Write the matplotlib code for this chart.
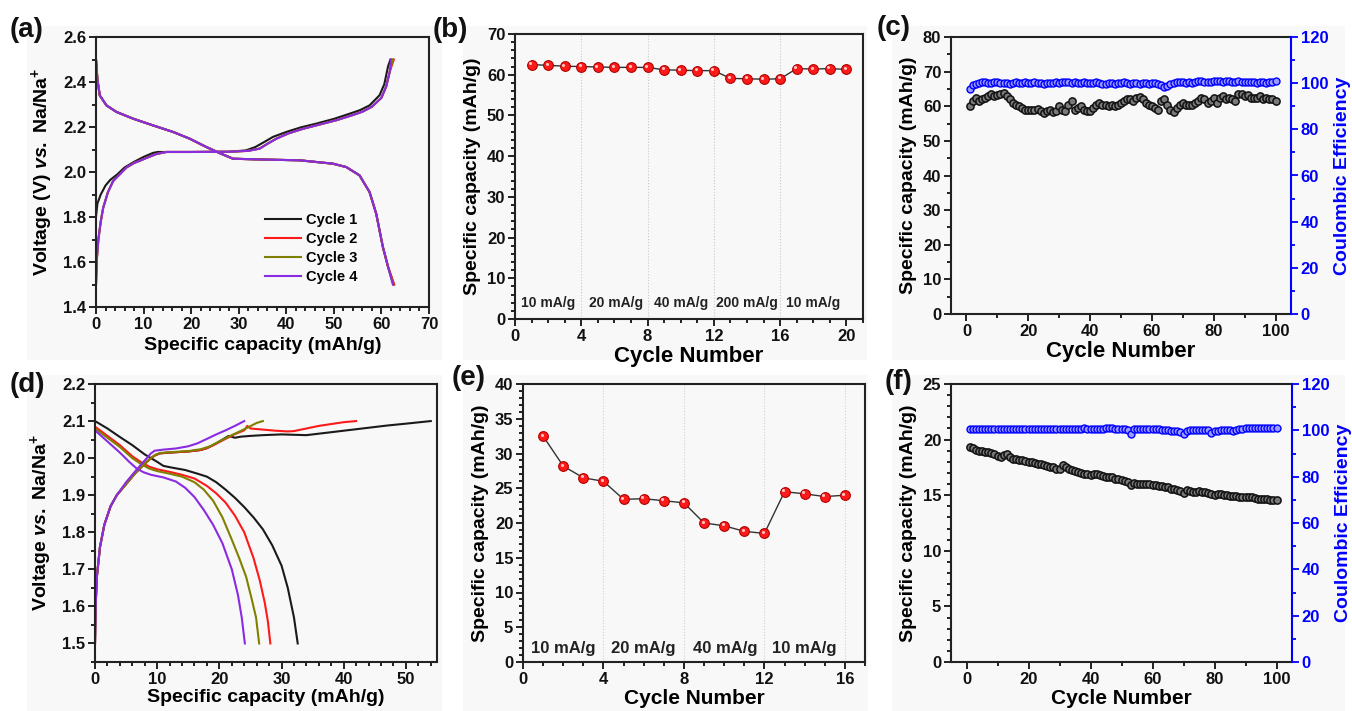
import matplotlib
matplotlib.use('Agg')
import matplotlib.pyplot as plt
from matplotlib.ticker import MultipleLocator
from matplotlib.patches import Rectangle
from matplotlib.transforms import offset_copy

plt.rcParams['font.family'] = ['Liberation Sans', 'DejaVu Sans']
plt.rcParams['font.weight'] = 'bold'
plt.rcParams['axes.labelweight'] = 'bold'
plt.rcParams['mathtext.fontset'] = 'custom'
plt.rcParams['mathtext.rm'] = 'Liberation Sans:bold'
plt.rcParams['mathtext.it'] = 'Liberation Sans:bold:italic'
plt.rcParams['mathtext.bf'] = 'Liberation Sans:bold'

# ---------------- data: panel (a) ----------------
cycle_labels = ['Cycle 1', 'Cycle 2', 'Cycle 3', 'Cycle 4']
cycle_colors = ['#1a1a1a', '#ff1a1a', '#808000', '#8a2be2']

a_chg1_cap = [0, 0.3, 1, 2, 3, 4.5, 6, 8, 10, 12, 13, 20, 28, 31.5, 33.5, 35.5, 37.2, 40, 43, 46.3, 50, 53.3, 55.5, 57.5, 59.6, 60.6, 61.4, 61.9]
a_chg1_v = [1.80, 1.86, 1.90, 1.94, 1.965, 1.99, 2.02, 2.045, 2.067, 2.085, 2.089, 2.089, 2.09, 2.096, 2.111, 2.135, 2.156, 2.178, 2.198, 2.215, 2.236, 2.259, 2.275, 2.296, 2.341, 2.39, 2.47, 2.50]
a_chg_cap = [0, 0.2, 0.5, 1.0, 1.5, 2.5, 3.6, 5, 6.4, 8, 9.2, 11, 12.7, 14.8, 20, 28, 32, 34.4, 36, 37.9, 40.5, 43.5, 46.8, 50.5, 53.8, 56, 58, 60, 61, 61.8, 62.5]
a_chg_v = [1.50, 1.62, 1.70, 1.78, 1.84, 1.91, 1.96, 1.99, 2.02, 2.04, 2.05, 2.066, 2.08, 2.089, 2.089, 2.09, 2.094, 2.104, 2.125, 2.148, 2.172, 2.192, 2.21, 2.23, 2.252, 2.268, 2.29, 2.33, 2.38, 2.45, 2.50]
a_chg_end = [62.6, 62.4, 62.0]
a_dis_cap = [0, 0.3, 0.8, 2.2, 4.3, 7.8, 12, 16.2, 19.7, 23.2, 26, 28.8, 35.8, 42.8, 49.8, 52.6, 55.4, 57.5, 58.9, 60.3, 61.4, 62.4]
a_dis_v = [2.50, 2.41, 2.34, 2.296, 2.267, 2.237, 2.207, 2.178, 2.148, 2.111, 2.084, 2.059, 2.055, 2.052, 2.037, 2.022, 1.985, 1.911, 1.815, 1.667, 1.578, 1.50]
a_dis_end = [62.6, 62.7, 62.5, 62.4]

# ---------------- data: panel (b) ----------------
b_cycle = list(range(1, 21))
b_cap = [62.5, 62.3, 62.1, 62.0, 61.9, 61.8, 61.8, 61.8, 61.2, 61.1,
         61.0, 61.0, 59.1, 59.0, 58.9, 59.0, 61.5, 61.4, 61.5, 61.3]
b_rate_labels = ['10 mA/g', '20 mA/g', '40 mA/g', '200 mA/g', '10 mA/g']
b_rate_x = [2.0, 6.1, 10.0, 14.0, 18.0]
b_dividers = [4, 8, 12, 16]

# ---------------- data: panel (c) ----------------
c_cycle = list(range(1, 101))
c_cap = [60.0, 61.5, 62.3, 61.5, 62.0, 62.5, 63.0, 63.5, 63.0, 63.2,
         63.5, 63.8, 63.0, 62.0, 61.0, 60.5, 60.0, 59.5, 59.0, 58.8,
         59.0, 59.0, 59.2, 58.5, 58.0, 58.5, 58.8, 58.2, 58.5, 60.0,
         59.0, 58.5, 60.5, 61.5, 59.0, 59.5, 60.0, 59.0, 58.5, 58.5,
         59.5, 60.5, 60.8, 60.5, 60.5, 60.2, 60.5, 60.0, 60.5, 61.0,
         61.5, 62.0, 62.0, 61.5, 62.5, 62.8, 62.0, 61.0, 60.5, 60.0,
         59.5, 59.0, 61.5, 62.0, 60.5, 59.0, 58.2, 59.5, 60.5, 61.0,
         60.5, 60.3, 60.5, 61.0, 61.5, 62.5, 62.0, 61.0, 61.5, 62.5,
         61.0, 62.5, 63.0, 62.0, 62.5, 62.0, 61.5, 63.5, 63.5, 63.0,
         63.2, 62.5, 62.5, 62.5, 63.0, 62.0, 62.5, 62.0, 62.0, 61.5]
c_ce = [97.5, 99.0, 99.8, 100.2, 100.3, 100.3, 100.2, 100.0, 100.4, 100.3,
        100.0, 100.2, 100.0, 99.8, 100.2, 100.3, 100.2, 100.0, 100.3, 100.2,
        100.0, 100.3, 100.2, 100.0, 99.8, 100.0, 100.2, 100.0, 100.3, 100.2,
        100.4, 100.5, 100.3, 100.2, 100.5, 100.2, 100.0, 100.3, 100.0, 100.2,
        100.0, 100.3, 100.0, 99.8, 99.6, 100.0, 100.2, 99.8, 100.0, 100.2,
        100.3, 100.0, 99.8, 100.2, 100.0, 99.7, 100.0, 100.2, 99.8, 100.0,
        100.0, 99.8, 99.0, 98.5, 98.8, 99.8, 100.0, 100.3, 100.5, 100.3,
        100.0, 100.3, 100.2, 100.5, 100.8, 101.0, 100.5, 100.3, 100.5, 100.8,
        101.0, 100.8, 100.5, 101.0, 100.8, 100.5, 100.3, 100.8, 100.5, 100.3,
        100.5, 100.3, 100.5, 100.2, 100.5, 100.3, 100.0, 100.3, 100.5, 101.0]

# ---------------- data: panel (d) ----------------
d_chg_cap = [
    [0, 0.1, 0.3, 0.8, 1.5, 2.5, 3.5, 5, 6.5, 8, 9, 9.7, 10.5, 12, 15, 17, 18, 19, 20.5, 21.5, 22.5, 23.5, 25, 27, 30, 32, 34, 36, 38, 41, 44, 47, 50, 54],
    [0, 0.1, 0.3, 0.8, 1.5, 2.5, 3.5, 5, 6.5, 8, 9, 9.7, 10.5, 12, 15, 17, 18, 19, 21, 22.5, 24, 24.5, 25, 27, 29, 31, 32, 34, 36, 38, 40, 42],
    [0, 0.1, 0.3, 0.8, 1.5, 2.5, 3.5, 5, 6.5, 8, 9, 9.7, 10.5, 12, 15, 17, 18.5, 20, 21.5, 23, 24.5, 26, 27],
    [0, 0.1, 0.3, 0.8, 1.5, 2.5, 3.5, 5, 6.5, 7.8, 8.5, 9.0, 9.6, 11, 13, 15, 16.5, 18, 19.5, 21, 22.5, 24],
]
d_chg_v = [
    [1.50, 1.60, 1.68, 1.76, 1.82, 1.87, 1.90, 1.93, 1.96, 1.985, 2.00, 2.008, 2.013, 2.015, 2.018, 2.022, 2.027, 2.035, 2.05, 2.06, 2.055, 2.058, 2.06, 2.062, 2.064, 2.063, 2.062, 2.066, 2.07, 2.076, 2.082, 2.088, 2.093, 2.10],
    [1.50, 1.60, 1.68, 1.76, 1.82, 1.87, 1.90, 1.93, 1.96, 1.985, 2.00, 2.008, 2.013, 2.015, 2.018, 2.022, 2.027, 2.035, 2.052, 2.065, 2.075, 2.087, 2.08, 2.077, 2.074, 2.072, 2.073, 2.08, 2.087, 2.092, 2.097, 2.10],
    [1.50, 1.60, 1.68, 1.76, 1.82, 1.87, 1.90, 1.93, 1.96, 1.985, 2.00, 2.009, 2.014, 2.016, 2.019, 2.024, 2.032, 2.045, 2.058, 2.07, 2.082, 2.095, 2.10],
    [1.50, 1.60, 1.68, 1.76, 1.82, 1.87, 1.90, 1.935, 1.965, 1.99, 2.003, 2.013, 2.02, 2.023, 2.026, 2.032, 2.04, 2.052, 2.064, 2.075, 2.087, 2.10],
]
d_dis_cap = [
    [0, 2, 4, 6, 8, 10, 11, 12.5, 14.5, 16.5, 18, 19.5, 21, 22.5, 24, 25.5, 27, 28.5, 30, 31, 32, 32.6],
    [0, 2, 4, 6, 7.5, 8.7, 10, 12, 14, 16, 18, 19.5, 21, 22.5, 24, 25.5, 26.5, 27.3, 27.8, 28.2],
    [0, 2, 4, 6, 7.5, 8.7, 10, 12, 14, 16, 17.5, 19, 20.5, 22, 23.2, 24.3, 25.2, 25.9, 26.4],
    [0, 2, 4, 5.5, 6.7, 7.8, 9, 11, 13, 14.5, 16, 17.5, 19, 20.5, 22, 23, 23.6, 24.1],
]
d_dis_v = [
    [2.10, 2.08, 2.057, 2.035, 2.01, 1.99, 1.979, 1.974, 1.968, 1.958, 1.95, 1.935, 1.915, 1.893, 1.868, 1.84, 1.808, 1.765, 1.71, 1.65, 1.57, 1.50],
    [2.085, 2.06, 2.035, 2.005, 1.988, 1.977, 1.97, 1.963, 1.955, 1.945, 1.925, 1.905, 1.88, 1.845, 1.80, 1.73, 1.67, 1.61, 1.56, 1.50],
    [2.08, 2.055, 2.03, 2.0, 1.983, 1.972, 1.965, 1.958, 1.95, 1.935, 1.915, 1.885, 1.84, 1.78, 1.73, 1.68, 1.62, 1.57, 1.50],
    [2.075, 2.045, 2.015, 1.99, 1.972, 1.962, 1.955, 1.948, 1.937, 1.92, 1.895, 1.86, 1.82, 1.77, 1.70, 1.63, 1.57, 1.50],
]

# ---------------- data: panel (e) ----------------
e_cycle = list(range(1, 17))
e_cap = [32.5, 28.2, 26.5, 26.0, 23.4, 23.5, 23.2, 22.9, 20.0, 19.6, 18.8, 18.5, 24.5, 24.2, 23.8, 24.0]
e_rate_labels = ['10 mA/g', '20 mA/g', '40 mA/g', '10 mA/g']
e_rate_x = [2.0, 6.0, 10.05, 14.0]
e_dividers = [4, 8, 12, 16]

# ---------------- data: panel (f) ----------------
f_cycle = list(range(1, 101))
f_cap = [19.3, 19.2, 19.1, 19.0, 18.95, 18.9, 18.85, 18.8, 18.7, 18.5,
         18.4, 18.6, 18.7, 18.4, 18.3, 18.25, 18.2, 18.15, 18.1, 18.0,
         17.95, 17.9, 17.8, 17.85, 17.7, 17.6, 17.55, 17.5, 17.4, 17.35,
         17.7, 17.5, 17.4, 17.3, 17.2, 17.1, 17.0, 16.9, 16.9, 16.85,
         16.95, 16.9, 16.8, 16.7, 16.6, 16.65, 16.6, 16.5, 16.45, 16.35,
         16.3, 16.2, 15.9, 16.1, 16.0, 16.0, 16.0, 16.05, 16.0, 15.95,
         15.9, 15.85, 15.8, 15.75, 15.7, 15.6, 15.55, 15.5, 15.4, 15.2,
         15.45, 15.4, 15.3, 15.25, 15.35, 15.3, 15.25, 15.2, 15.1, 15.0,
         15.15, 15.1, 15.05, 15.0, 14.95, 14.9, 14.9, 14.85, 14.85, 14.85,
         14.85, 14.8, 14.75, 14.7, 14.7, 14.65, 14.65, 14.6, 14.6, 14.6]
f_ce = [100.5, 100.5, 100.5, 100.5, 100.5, 100.5, 100.5, 100.5, 100.5, 100.5,
        100.5, 100.5, 100.5, 100.5, 100.5, 100.5, 100.5, 100.5, 100.5, 100.5,
        100.5, 100.5, 100.5, 100.5, 100.5, 100.5, 100.5, 100.5, 100.5, 100.5,
        100.5, 100.5, 100.5, 100.5, 100.5, 100.6, 100.7, 100.8, 100.7, 100.5,
        100.4, 100.5, 100.6, 100.7, 100.8, 100.9, 100.8, 100.6, 100.5, 100.5,
        100.5, 100.2, 98.5, 100.5, 100.6, 100.6, 100.6, 100.6, 100.6, 100.6,
        100.6, 100.5, 100.3, 100.2, 100.0, 99.9, 99.8, 99.5, 99.2, 98.6,
        99.8, 100.2, 100.3, 100.2, 100.0, 100.0, 100.2, 100.0, 99.0, 99.5,
        99.9, 100.0, 100.1, 100.0, 100.0, 99.9, 100.2, 100.4, 100.6, 100.8,
        100.9, 101.0, 101.0, 101.0, 101.0, 101.0, 101.1, 101.1, 101.0, 101.0]

# ---------------- figure ----------------
W, H = 1352, 711
fig = plt.figure(figsize=(W / 100, H / 100), dpi=100)
fig.patch.set_facecolor('white')

BG = '#f8f8f8'
for (l, t, r, b) in [(27, 26, 442, 360), (463, 26, 867, 360), (892, 26, 1345, 360),
                     (27, 375, 442, 711), (463, 375, 868, 711), (892, 375, 1345, 711)]:
    fig.patches.append(Rectangle((l / W, 1 - b / H), (r - l) / W, (b - t) / H,
                                 transform=fig.transFigure, facecolor=BG,
                                 edgecolor='none', zorder=-10))


def add_ax(l, t, r, b):
    return fig.add_axes([l / W, 1 - b / H, (r - l) / W, (b - t) / H])


def style(ax, xmaj, xmin, ymaj, ymin):
    ax.set_facecolor('none')
    ax.xaxis.set_major_locator(MultipleLocator(xmaj))
    ax.xaxis.set_minor_locator(MultipleLocator(xmin))
    ax.yaxis.set_major_locator(MultipleLocator(ymaj))
    ax.yaxis.set_minor_locator(MultipleLocator(ymin))
    ax.tick_params(which='both', direction='out', top=False, right=False,
                   labelsize=12, width=1.3, pad=2, colors='#111111')
    ax.tick_params(which='major', length=5)
    ax.tick_params(which='minor', length=3)
    for s in ax.spines.values():
        s.set_linewidth(1.5)
        s.set_color('#222222')


def style_right(ax2):
    ax2.set_ylim(0, 120)
    ax2.set_facecolor('none')
    ax2.yaxis.set_major_locator(MultipleLocator(20))
    ax2.yaxis.set_minor_locator(MultipleLocator(10))
    ax2.tick_params(which='both', direction='out', colors='#0000ff', labelsize=12, width=1.3, pad=2)
    ax2.tick_params(which='major', length=5)
    ax2.tick_params(which='minor', length=3)
    for k in ['left', 'top', 'bottom']:
        ax2.spines[k].set_visible(False)
    ax2.spines['right'].set_color('#0000ff')
    ax2.spines['right'].set_linewidth(1.5)
    ax2.set_ylabel('Coulombic Efficiency', fontsize=LBL, color='#0000ff', labelpad=4)


def sphere_points(ax, x, y):
    ax.plot(x, y, color='#333333', lw=1.0, marker='o', ms=7,
            mfc='#ff1a1a', mec='#b00000', mew=0.8, zorder=3)
    hl = offset_copy(ax.transData, fig=fig, x=-1.0, y=1.0, units='points')
    ax.plot(x, y, ls='none', marker='o', ms=2.2, mfc='#ffc8c8', mec='none',
            transform=hl, zorder=4)


LBL = 14

# (a)
axa = add_ax(96, 37, 429, 307)
for i in range(4):
    if i == 0:
        cx, cv = a_chg1_cap, a_chg1_v
    else:
        cx = a_chg_cap[:-1] + [a_chg_end[i - 1]]
        cv = a_chg_v
    dx = a_dis_cap[:-1] + [a_dis_end[i]]
    axa.plot(cx, cv, color=cycle_colors[i], lw=1.5, label=cycle_labels[i])
    axa.plot(dx, a_dis_v, color=cycle_colors[i], lw=1.5)
axa.set_xlim(0, 70)
axa.set_ylim(1.4, 2.6)
style(axa, 10, 2, 0.2, 0.1)
axa.set_xlabel('Specific capacity (mAh/g)', fontsize=LBL, labelpad=4)
axa.set_ylabel('Voltage (V) $\\mathit{vs.}$ Na/Na$^{+}$', fontsize=LBL, labelpad=6)
axa.legend(loc='upper left', bbox_to_anchor=(0.49, 0.37), frameon=False,
           fontsize=10.5, handlelength=2.5, handletextpad=0.3, labelspacing=0.35,
           borderaxespad=0)

# (b)
axb = add_ax(515, 34, 863, 319)
for xv in b_dividers:
    axb.axvline(xv, color='#c8c8c8', lw=0.8, ls=':', zorder=0)
sphere_points(axb, b_cycle, b_cap)
for xv, t in zip(b_rate_x, b_rate_labels):
    axb.text(xv, 4, t, ha='center', va='center', fontsize=10, color='#222222')
axb.set_xlim(0, 21)
axb.set_ylim(0, 70)
style(axb, 4, 1, 10, 2)
axb.set_xlabel('Cycle Number', fontsize=LBL + 2, labelpad=2)
axb.set_ylabel('Specific capacity (mAh/g)', fontsize=LBL, labelpad=4)

# (c)
axc = add_ax(951, 37, 1291, 314)
axc.plot(c_cycle, c_cap, ls='none', marker='o', ms=5.2, mfc='#7a7a7a',
         mec='#111111', mew=1.1)
axc.set_xlim(-5, 105)
axc.set_ylim(0, 80)
style(axc, 20, 10, 10, 5)
axc.spines['right'].set_visible(False)
axc.set_xlabel('Cycle Number', fontsize=LBL + 2, labelpad=2)
axc.set_ylabel('Specific capacity (mAh/g)', fontsize=LBL, labelpad=4)
axc2 = axc.twinx()
axc2.plot(c_cycle, c_ce, ls='none', marker='o', ms=5.0, mfc='#9a9aff',
          mec='#0000ff', mew=1.0)
style_right(axc2)

# (d)
axd = add_ax(95, 384, 437, 662)
for i in range(4):
    axd.plot(d_chg_cap[i], d_chg_v[i], color=cycle_colors[i], lw=1.5)
    axd.plot(d_dis_cap[i], d_dis_v[i], color=cycle_colors[i], lw=1.5)
axd.set_xlim(0, 55)
axd.set_ylim(1.45, 2.2)
style(axd, 10, 2, 0.1, 0.05)
axd.set_xlabel('Specific capacity (mAh/g)', fontsize=LBL, labelpad=2)
axd.set_ylabel('Voltage $\\mathit{vs.}$ Na/Na$^{+}$', fontsize=LBL, labelpad=6)

# (e)
axe = add_ax(523, 384, 865, 662)
for xv in e_dividers:
    axe.axvline(xv, color='#d0d0d0', lw=0.8, ls=':', zorder=0)
sphere_points(axe, e_cycle, e_cap)
for xv, t in zip(e_rate_x, e_rate_labels):
    axe.text(xv, 2, t, ha='center', va='center', fontsize=12, color='#222222')
axe.set_xlim(0, 17)
axe.set_ylim(0, 40)
style(axe, 4, 1, 5, 1)
axe.set_xlabel('Cycle Number', fontsize=LBL + 1, labelpad=2)
axe.set_ylabel('Specific capacity (mAh/g)', fontsize=LBL, labelpad=4)

# (f)
axf = add_ax(951, 384, 1292, 662)
axf.plot(f_cycle, f_cap, ls='none', marker='o', ms=5.2, mfc='#7a7a7a',
         mec='#111111', mew=1.1)
axf.set_xlim(-5, 105)
axf.set_ylim(0, 25)
style(axf, 20, 10, 5, 1)
axf.spines['right'].set_visible(False)
axf.set_xlabel('Cycle Number', fontsize=LBL + 1, labelpad=2)
axf.set_ylabel('Specific capacity (mAh/g)', fontsize=LBL, labelpad=4)
axf2 = axf.twinx()
axf2.plot(f_cycle, f_ce, ls='none', marker='o', ms=5.0, mfc='#9a9aff',
          mec='#0000ff', mew=1.0)
style_right(axf2)

# panel letters
for txt, x, y in [('(a)', 10, 30), ('(b)', 433, 30), ('(c)', 877, 28),
                  ('(d)', 10, 385), ('(e)', 452, 378), ('(f)', 885, 382)]:
    fig.text(x / W, 1 - y / H, txt, fontsize=20, ha='left', va='center', color='#111111')

fig.savefig('out.png', dpi=100)
